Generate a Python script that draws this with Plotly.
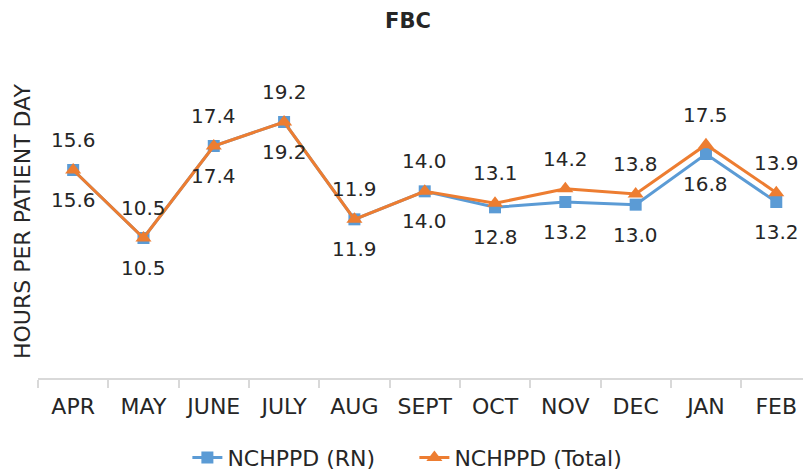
import plotly.graph_objects as go

months = ["APR", "MAY", "JUNE", "JULY", "AUG", "SEPT", "OCT", "NOV", "DEC", "JAN", "FEB"]
rn_values = [15.6, 10.5, 17.4, 19.2, 11.9, 14.0, 12.8, 13.2, 13.0, 16.8, 13.2]
total_values = [15.6, 10.5, 17.4, 19.2, 11.9, 14.0, 13.1, 14.2, 13.8, 17.5, 13.9]

BLUE = "#5B9BD5"
ORANGE = "#ED7D31"
LABEL_FONT = dict(family="DejaVu Sans", size=20, color="#262626")

fig = go.Figure()
fig.add_trace(go.Scatter(
    x=months, y=rn_values, name="NCHPPD (RN)", mode="lines+markers",
    line=dict(color=BLUE, width=3),
    marker=dict(symbol="square", size=12, color=BLUE),
))
fig.add_trace(go.Scatter(
    x=months, y=total_values, name="NCHPPD (Total)", mode="lines+markers",
    line=dict(color=ORANGE, width=3),
    marker=dict(symbol="triangle-up", size=14, color=ORANGE),
))

annotations = []
for m, v in zip(months, rn_values):
    annotations.append(dict(x=m, y=v, xref="x", yref="y", text=f"{v:.1f}",
                            showarrow=False, yshift=-30, font=LABEL_FONT))
for m, v in zip(months, total_values):
    annotations.append(dict(x=m, y=v, xref="x", yref="y", text=f"{v:.1f}",
                            showarrow=False, yshift=30, font=LABEL_FONT))
annotations.append(dict(x=0, y=0.5, xref="paper", yref="paper", xshift=-16,
                        xanchor="center", yanchor="middle",
                        text="HOURS PER PATIENT DAY", textangle=-90, showarrow=False,
                        font=dict(family="DejaVu Sans", size=22, color="#262626")))

fig.update_layout(
    width=803, height=470,
    margin=dict(l=38, r=0, t=66, b=92),
    paper_bgcolor="white", plot_bgcolor="white",
    title=dict(text="<b>FBC</b>", x=0.508, xanchor="center", yref="container", y=0.957,
               yanchor="middle",
               font=dict(family="DejaVu Sans", size=21, color="#262626")),
    showlegend=True,
    legend=dict(orientation="h", x=0.492, xanchor="center", yref="container", y=0.026,
                yanchor="middle", entrywidth=182, itemwidth=30,
                font=dict(family="DejaVu Sans", size=22, color="#262626")),
    annotations=annotations,
)
fig.update_xaxes(
    type="category", range=[-0.5, 10.38],
    showline=True, linecolor="#D9D9D9", linewidth=1.5,
    ticks="outside", tickson="boundaries", ticklen=8, tickcolor="#D9D9D9", tickwidth=1.5,
    showgrid=False, ticklabelstandoff=8,
    tickfont=dict(family="DejaVu Sans", size=22, color="#262626"),
)
fig.update_yaxes(range=[0, 23.4], showline=False, showgrid=False, zeroline=False,
                 showticklabels=False, ticks="")

fig.write_html("out.html", config={"displayModeBar": False},
               post_script="document.body.style.margin='0px';")
